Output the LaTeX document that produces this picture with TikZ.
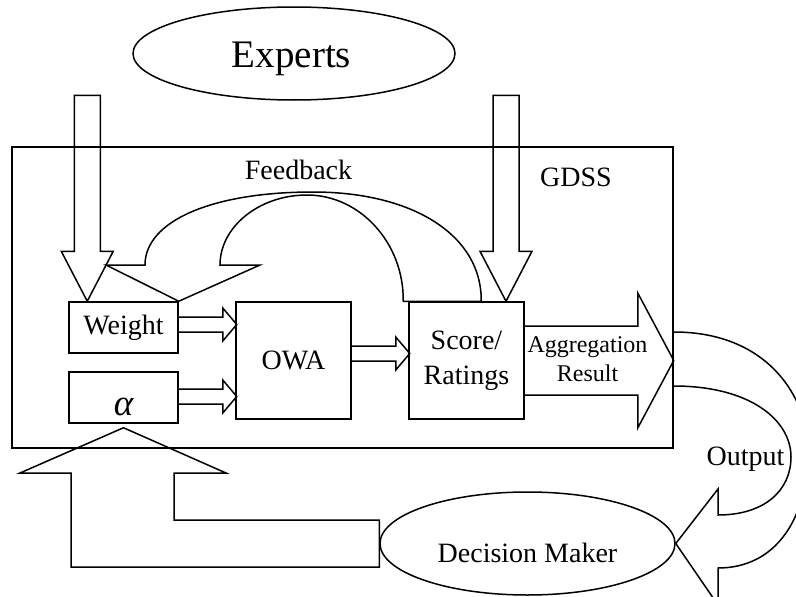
\documentclass[tikz,border=0pt]{standalone}
\usepackage{fontspec}
\setmainfont{Liberation Serif}
\usetikzlibrary{positioning}
\usetikzlibrary{calc}
\usetikzlibrary{shapes.geometric}

\tikzset{
  box/.style={draw, line width=1.5pt, inner sep=0pt, font=\fontsize{28}{35}\selectfont},
  oval/.style={draw, ellipse, line width=1.5pt},
  blockarrow/.style={draw, line width=1.5pt, line join=miter},
  txt/.style={font=\fontsize{28}{35}\selectfont},
}

\begin{document}
\begin{tikzpicture}[x=1pt,y=-1pt]
\useasboundingbox (0,0) rectangle (796,597);

% ovals
\node[oval, minimum width=322pt, minimum height=93pt] (experts) at (294,53.5) {};
\node[txt, font=\fontsize{39}{45}\selectfont] (expertstext) at (291.5,59) {Experts};
\node[oval, minimum width=295pt, minimum height=103pt] (decision) at (527.5,543.5) {};
\node[txt] (decisiontext) at (527.5,553) {Decision Maker};

% the GDSS frame
\node[draw, line width=1.5pt, inner sep=0pt, minimum width=661pt, minimum height=301pt] (gdss) at (342.5,297.5) {};
\node[txt] (gdsstext) at (576,177) {GDSS};

% blocks
\node[box, minimum width=109pt, minimum height=51pt] (weight) at (123.5,327.5) {Weight};
\node[box, minimum width=109pt, minimum height=51pt, font=\fontsize{37}{42}\selectfont\itshape,
  text height=35pt, text depth=0pt] (alpha) at (123.5,397.5) {α};
\node[box, minimum width=115pt, minimum height=117pt] (owa) at (293.5,360.5) {OWA};
\node[box, minimum width=115pt, minimum height=117pt, align=center] (score) at (466.5,360.5) {Score/\\Ratings};

% experts -> weight, experts -> score
\draw[blockarrow] ($(weight.north west)+(19,0)$) -- ++(-26,-50) -- ++(13,0) -- ++(0,-156)
  -- ++(26,0) -- ++(0,156) -- ++(13,0) -- cycle;
\draw[blockarrow] ($(score.north)+(39.5,0)$) -- ++(-26,-50) -- ++(13,0) -- ++(0,-156)
  -- ++(26,0) -- ++(0,156) -- ++(13,0) -- cycle;

% small arrows
\draw[blockarrow] ($(weight.east)+(0,-10.5)$) -- ++(44,0) -- ++(0,-9) -- ++(14,16.5)
  -- ++(-14,16.5) -- ++(0,-9) -- ++(-44,0);
\draw[blockarrow] ($(alpha.east)+(0,-8.5)$) -- ++(44,0) -- ++(0,-9) -- ++(14,16.5)
  -- ++(-14,16.5) -- ++(0,-9) -- ++(-44,0);
\draw[blockarrow] ($(owa.east)+(0,-14.5)$) -- ++(44,0) -- ++(0,-9) -- ++(14,16.5)
  -- ++(-14,16.5) -- ++(0,-9) -- ++(-44,0);

% aggregation result
\draw[blockarrow] ($(score.east)+(0,-34.5)$) -- ++(113,0) -- ++(0,-33) -- ++(36,67.5)
  -- ++(-36,67.5) -- ++(0,-33) -- ++(-113,0);
\node[font=\fontsize{24}{29}\selectfont, align=center] (aggtext) at (587.5,359.5) {Aggregation\\Result};

% feedback
\draw[blockarrow] ($(score.north west)+(-5,0)$) -- ($(score.north west)+(73,0)$)
  .. controls (482,236) and (414,192) .. (313,192)
  .. controls (212,192) and (145,221) .. (145,265)
  -- (106,265) -- (weight.north east) -- (260,265) -- (220,265)
  .. controls (220,227) and (259,195) .. (307,195)
  .. controls (360,195) and (404,243) .. ($(score.north west)+(-5,0)$) -- cycle;
\node[txt] (feedbacktext) at (298.5,169.5) {Feedback};

% output
\draw[blockarrow] ($(gdss.east)+(0,34.5)$)
  .. controls (770,332) and (808,400) .. (808,450)
  .. controls (808,520) and (775,568) .. (718,568)
  -- (718,605) -- (decision.east) -- (718,489) -- (718,515)
  .. controls (765,515) and (791,490) .. (791,457)
  .. controls (791,420) and (750,386) .. ($(gdss.east)+(0,88.5)$);
\node[txt] (outputtext) at (745.5,459.5) {Output};

% decision maker -> alpha
\draw[blockarrow] ($(decision.west)+(0,-23.5)$) -- (174,520) -- (174,473) -- (226,473)
  -- ($(alpha.south)+(0,4)$) -- (20,473) -- (71,473) -- (71,567)
  -- ($(decision.west)+(0,23.5)$) -- cycle;
\end{tikzpicture}
\end{document}
